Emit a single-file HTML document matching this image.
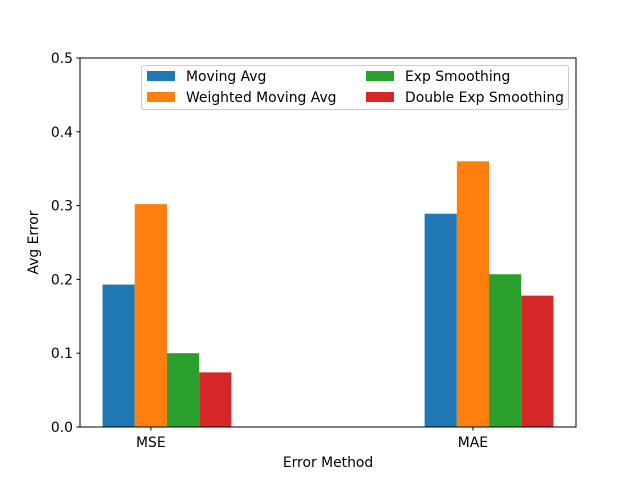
<!DOCTYPE html>
<html><head><meta charset="utf-8"><style>
html,body{margin:0;padding:0;background:#fff}
svg text{font-family:"DejaVu Sans","Liberation Sans",sans-serif;font-size:13.9px;fill:#000}
</style></head><body>
<svg id="chart" width="640" height="480" viewBox="0 0 640 480" xmlns="http://www.w3.org/2000/svg"></svg>
<script>
const categories = ["MSE", "MAE"];
const seriesNames = ["Moving Avg", "Weighted Moving Avg", "Exp Smoothing", "Double Exp Smoothing"];
const movingAvg = [0.193, 0.289];
const weightedMovingAvg = [0.302, 0.360];
const expSmoothing = [0.100, 0.207];
const doubleExpSmoothing = [0.074, 0.178];
const yTicks = [0.0, 0.1, 0.2, 0.3, 0.4, 0.5];
const colors = ["#1f77b4", "#ff7f0e", "#2ca02c", "#d62728"];

const series = [movingAvg, weightedMovingAvg, expSmoothing, doubleExpSmoothing];
const svg = document.getElementById('chart');
const NS = "http://www.w3.org/2000/svg";
const L = 80, R = 576, T = 58, B = 427;
const xMin = -0.22, xMax = 1.32, yMin = 0, yMax = 0.5;
const xs = v => L + (v - xMin) / (xMax - xMin) * (R - L);
const ys = v => B - (v - yMin) / (yMax - yMin) * (B - T);
const barW = 0.1;
function mk(tag, attrs, parent) {
  const e = document.createElementNS(NS, tag);
  for (const k in attrs) e.setAttribute(k, attrs[k]);
  (parent || svg).appendChild(e);
  return e;
}
series.forEach((vals, s) => {
  vals.forEach((v, i) => {
    const cx = i + (s - 1) * barW;
    const r = mk('rect', {x: xs(cx - barW / 2), y: ys(v), width: xs(cx + barW / 2) - xs(cx - barW / 2), height: ys(0) - ys(v), fill: colors[s]});
    
    
  });
});
const frame = mk('rect', {x: L, y: T, width: R - L, height: B - T, fill: 'none', stroke: '#000', 'stroke-width': 1});


yTicks.forEach(t => {
  const y = ys(t);
  const tk = mk('line', {x1: L - 3.5, x2: L, y1: y, y2: y, stroke: '#000'});
  
  
  const tx = mk('text', {x: L - 7, y: y + 5, 'text-anchor': 'end'});
  tx.textContent = t.toFixed(1);
  
  
});
categories.forEach((c, i) => {
  const x = xs(i);
  const tk = mk('line', {x1: x, x2: x, y1: B, y2: B + 3.5, stroke: '#000'});
  
  
  const tx = mk('text', {x: x, y: B + 20, 'text-anchor': 'middle'});
  tx.textContent = c;
  
  
});
const xt = mk('text', {x: (L + R) / 2, y: 467, 'text-anchor': 'middle'});
xt.textContent = 'Error Method';


const yt = mk('text', {x: 38, y: (T + B) / 2, 'text-anchor': 'middle', transform: 'rotate(-90 38 ' + (T + B) / 2 + ')'});
yt.textContent = 'Avg Error';


const lg = mk('g', {});


mk('rect', {x: 141.5, y: 65.5, width: 427, height: 44, rx: 2, fill: '#fff', 'fill-opacity': 0.8, stroke: '#ccc'}, lg);
const pos = [[147, 71], [147, 92], [366, 71], [366, 92]];
seriesNames.forEach((n, s) => {
  const [px, py] = pos[s];
  const p = mk('rect', {x: px, y: py, width: 28, height: 10, fill: colors[s]}, lg);
  
  
  const t = mk('text', {x: px + 39, y: py + 10}, lg);
  t.textContent = n;
  
  
});
</script>
</body></html>
